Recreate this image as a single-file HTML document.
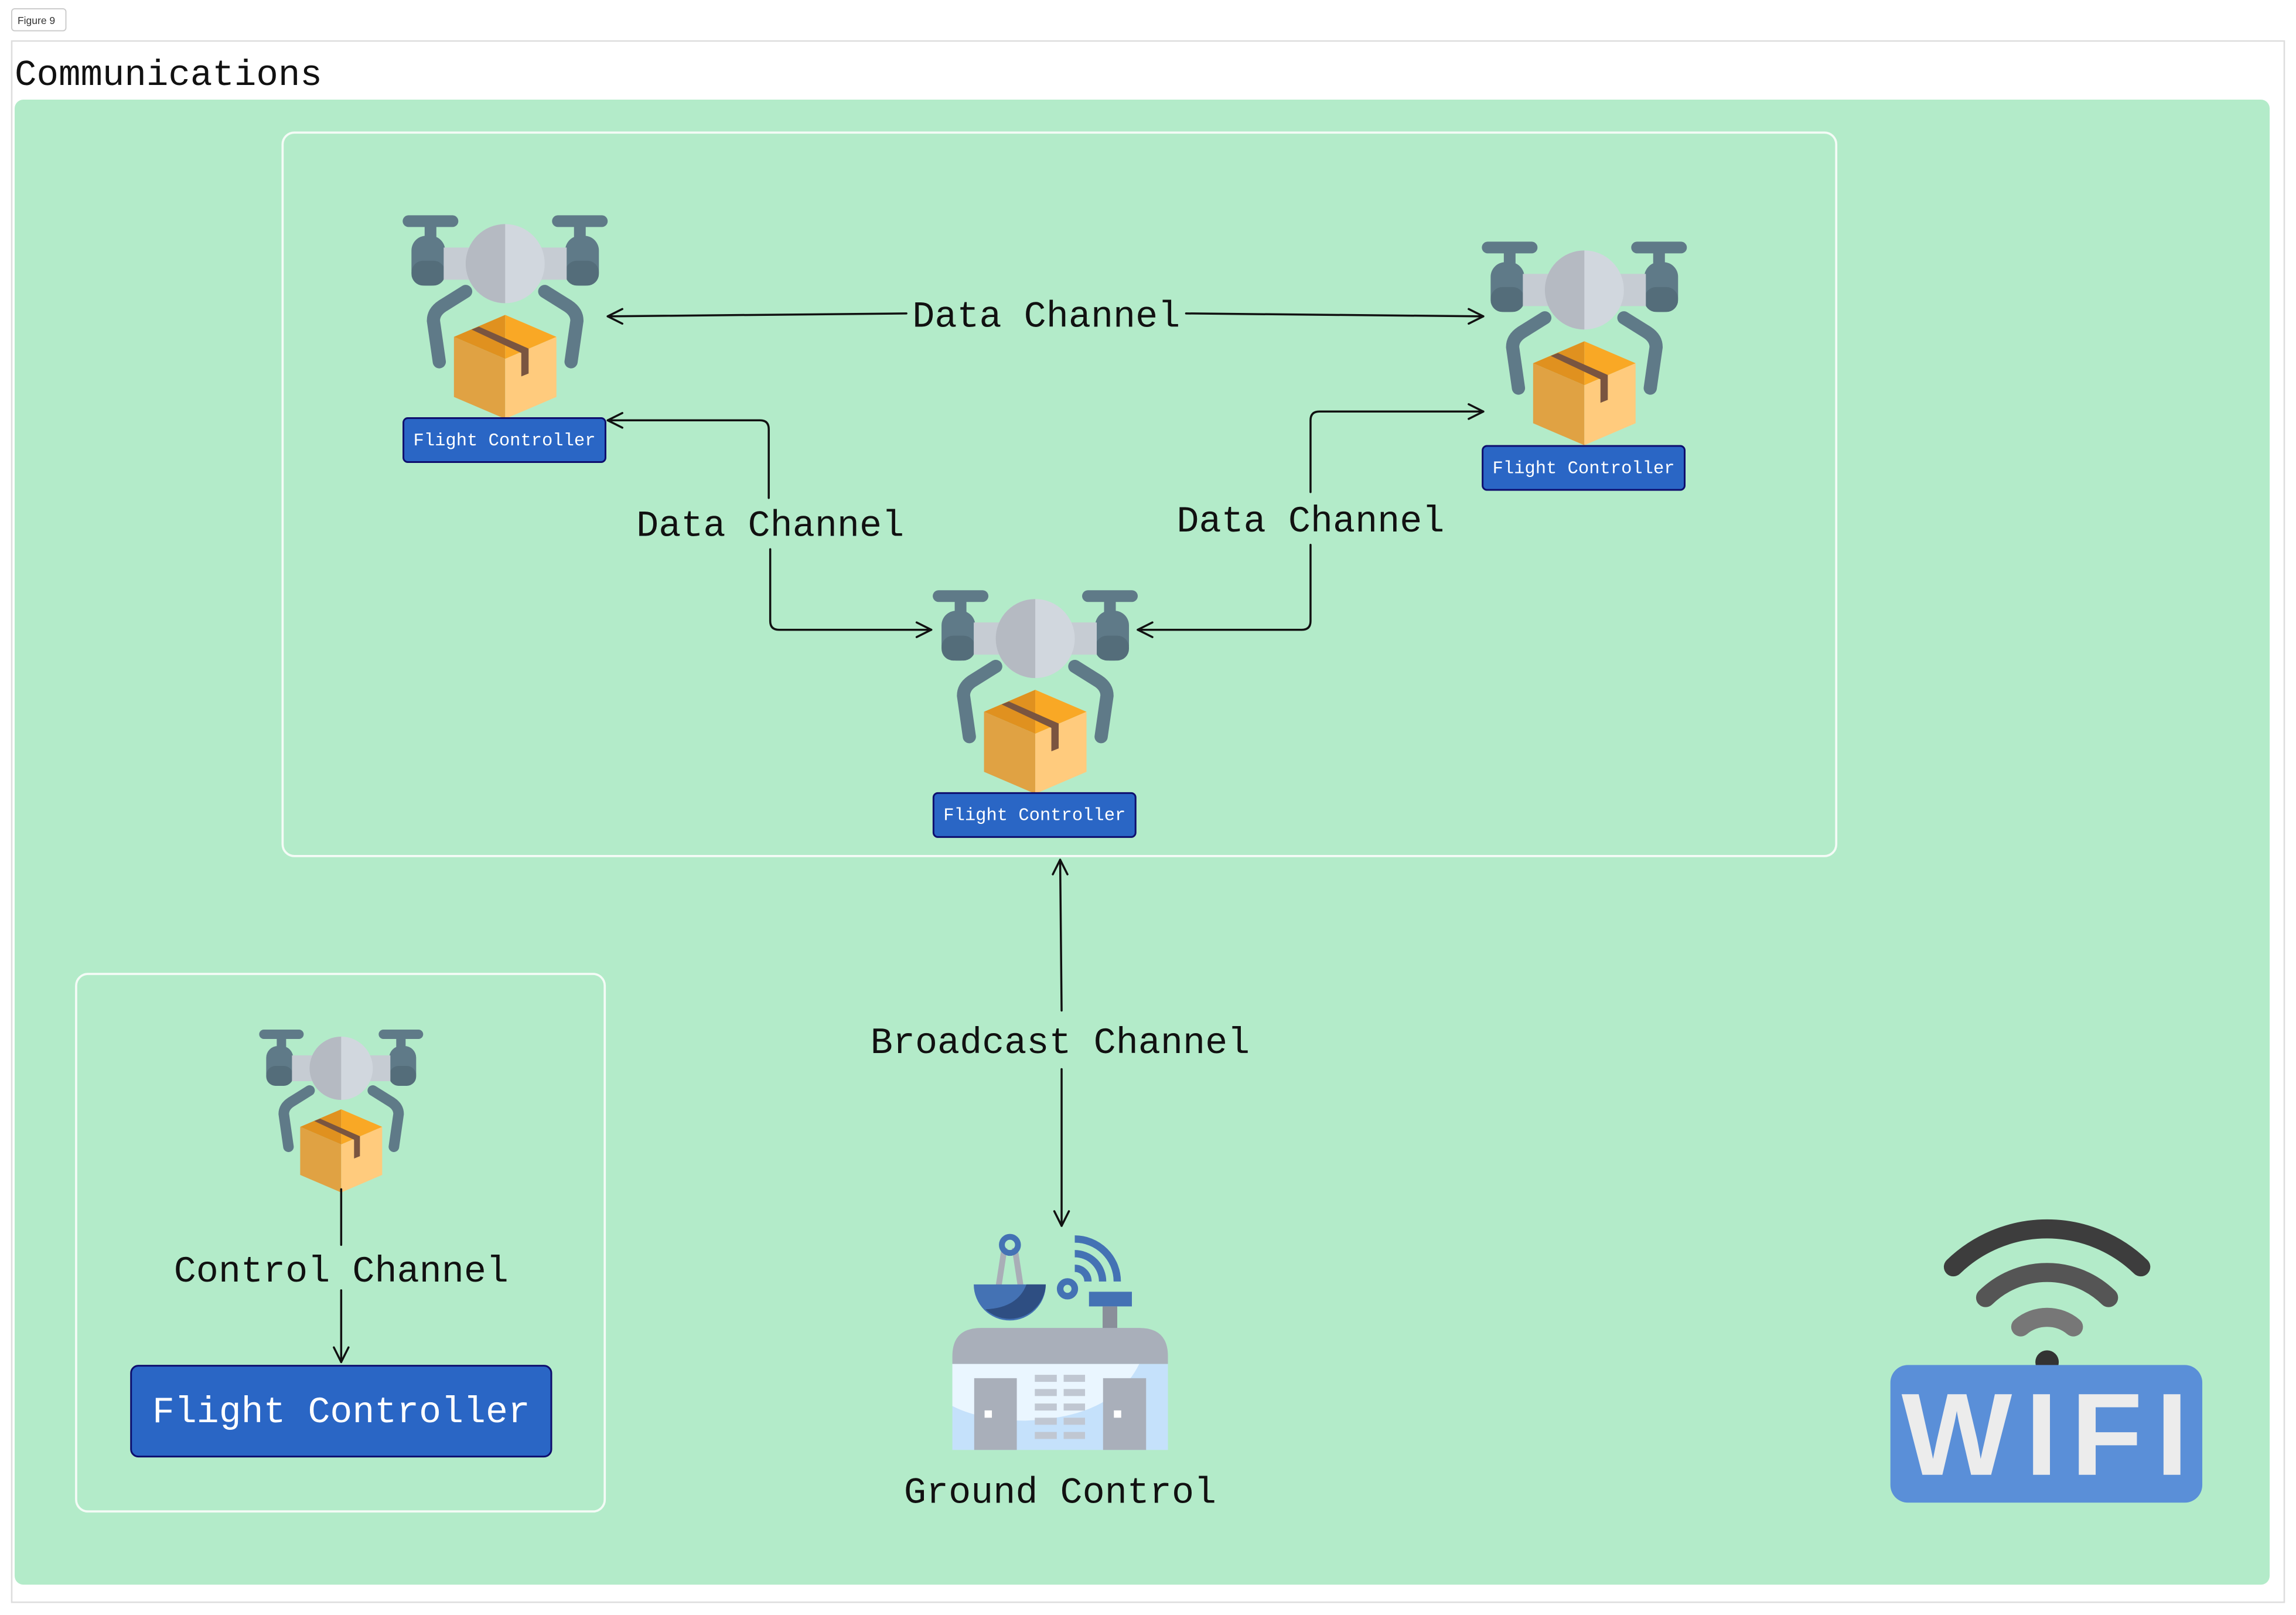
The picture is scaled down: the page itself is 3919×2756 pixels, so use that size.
<!DOCTYPE html>
<html><head><meta charset="utf-8"><style>
html,body{margin:0;padding:0;background:#fff;}
svg{display:block;}
.m{font-family:"Liberation Mono",monospace;}
</style></head><body>
<svg width="3919" height="2756" viewBox="0 0 1568 1102.7" preserveAspectRatio="none" xmlns="http://www.w3.org/2000/svg">
<defs>
<g id="drone">
  <rect x="0" y="0" width="38" height="8" rx="4" fill="#5f7a88"/>
  <rect x="15" y="6" width="8" height="12" fill="#5f7a88"/>
  <rect x="6" y="14" width="23" height="34" rx="10" fill="#5f7a88"/>
  <rect x="6" y="31" width="23" height="17" rx="8" fill="#546d7a"/>
  <rect x="102" y="0" width="38" height="8" rx="4" fill="#5f7a88"/>
  <rect x="117" y="6" width="8" height="12" fill="#5f7a88"/>
  <rect x="111" y="14" width="23" height="34" rx="10" fill="#5f7a88"/>
  <rect x="111" y="31" width="23" height="17" rx="8" fill="#546d7a"/>
  <path d="M43 52 L27 62 Q21 66 21 72 L25 100" stroke="#5f7a88" stroke-width="9" fill="none" stroke-linecap="round"/>
  <path d="M97 52 L113 62 Q119 66 119 72 L115 100" stroke="#5f7a88" stroke-width="9" fill="none" stroke-linecap="round"/>
  <rect x="28" y="22" width="84" height="22" fill="#c6ccd3"/>
  <circle cx="70" cy="33" r="27" fill="#d1d7de"/>
  <path d="M70 6 A27 27 0 0 0 70 60 Z" fill="#b5bac2"/>
  <polygon points="70,68 35,83 70,98" fill="#e0911f"/>
  <polygon points="70,68 105,83 70,98" fill="#f9a825"/>
  <polygon points="35,83 70,98 70,139 35,124" fill="#e0a243"/>
  <polygon points="70,98 105,83 105,124 70,139" fill="#ffcb7d"/>
  <polygon points="47,78 52,76 86,91 86,108 81,110 81,94" fill="#7a5540"/>
</g>
</defs>
<rect x="0" y="0" width="1568" height="1102.7" fill="#fff"/>
<rect x="8" y="6" width="37" height="15" rx="2" fill="#fff" stroke="#ccc" stroke-width="0.8"/>
<text x="12" y="16.5" font-size="7" style="font-family:'Liberation Sans',sans-serif" fill="#333">Figure 9</text>
<rect x="8" y="28" width="1552" height="1066" fill="#fff" stroke="#ddd" stroke-width="1"/>
<text class="m" x="10" y="58" font-size="25" fill="#111">Communications</text>
<rect x="10" y="68" width="1540" height="1014" rx="6" fill="#b3ebc9"/>
<rect x="193" y="90.5" width="1061" height="494" rx="8" fill="none" stroke="#f4fbf6" stroke-width="1.5"/>
<rect x="52" y="665" width="361" height="367" rx="8" fill="none" stroke="#f4fbf6" stroke-width="1.5"/>

<use href="#drone" x="275" y="147"/>
<use href="#drone" x="1012" y="165"/>
<use href="#drone" x="637" y="403"/>
<use href="#drone" transform="translate(177,703) scale(0.8)"/>

<g stroke="#0e0e6e" stroke-width="1.2" fill="#2a66c5">
<rect x="275.5" y="285.5" width="138" height="30" rx="3"/>
<rect x="1012.5" y="304.5" width="138" height="30" rx="3"/>
<rect x="637.5" y="541.5" width="138" height="30" rx="3"/>
<rect x="89.5" y="932.5" width="287" height="62" rx="5"/>
</g>
<g class="m" fill="#fff" text-anchor="middle">
<text x="344.5" y="304" font-size="12.2">Flight Controller</text>
<text x="1081.5" y="323" font-size="12.2">Flight Controller</text>
<text x="706.5" y="560" font-size="12.2">Flight Controller</text>
<text x="233" y="971" font-size="25.3">Flight Controller</text>
</g>

<g stroke="#111" stroke-width="1.4" fill="none" stroke-linecap="round" stroke-linejoin="round">
<path d="M415 216 L619 214"/><path d="M425 211 L415 216 L425 221"/>
<path d="M810 214 L1013 216"/><path d="M1003 211 L1013 216 L1003 221"/>
<path d="M415 287 L519 287 Q525 287 525 293 L525 340"/><path d="M425 282 L415 287 L425 292"/>
<path d="M526 375 L526 424 Q526 430 532 430 L636 430"/><path d="M626 425 L636 430 L626 435"/>
<path d="M1013 281 L901 281 Q895 281 895 287 L895 336"/><path d="M1003 276 L1013 281 L1003 286"/>
<path d="M895 372 L895 424 Q895 430 889 430 L777 430"/><path d="M787 425 L777 430 L787 435"/>
<path d="M724 587 L725 690"/><path d="M719 597 L724 587 L729 597"/>
<path d="M725 730 L725 837"/><path d="M720 827 L725 837 L730 827"/>
<path d="M233 812 L233 850"/>
<path d="M233 881 L233 930"/><path d="M228 920 L233 930 L238 920"/>
</g>
<g class="m" fill="#111" text-anchor="middle" font-size="25.4">
<text x="714.5" y="223">Data Channel</text>
<text x="526" y="366">Data Channel</text>
<text x="895" y="363">Data Channel</text>
<text x="724" y="719">Broadcast Channel</text>
<text x="233" y="875">Control Channel</text>
<text x="724" y="1026">Ground Control</text>
</g>

<!-- ground control -->
<g>
<path d="M686 852 L682 878 M693 852 L697 878" stroke="#a9aeb7" stroke-width="4"/>
<circle cx="689.7" cy="850" r="5.5" fill="none" stroke="#4472b4" stroke-width="4"/>
<path d="M665 877 L714.2 877 A24.6 24.6 0 0 1 665 877 Z" fill="#4472b4"/>
<path d="M701 877 L714.2 877 A24.6 24.6 0 0 1 673 894 Q695 893 701 877 Z" fill="#2e4e82"/>
<circle cx="729" cy="880" r="5" fill="none" stroke="#4472b4" stroke-width="4.5"/>
<g fill="none" stroke="#4472b4" stroke-width="5">
<path d="M734 846 A29 29 0 0 1 763 875"/>
<path d="M734 856 A19 19 0 0 1 753 875"/>
<path d="M734 866 A9 9 0 0 1 743 875"/>
</g>
<rect x="743.7" y="882" width="29.3" height="10" fill="#4472b4"/>
<rect x="753" y="892" width="10" height="15" fill="#8a8f9a"/>
<path d="M650.4 931.3 L650.4 926 Q650.4 906.7 670 906.7 L778 906.7 Q797.6 906.7 797.6 926 L797.6 931.3 Z" fill="#a9afba"/>
<rect x="650.4" y="931.3" width="147.2" height="58.7" fill="#c5e1fb"/>
<path d="M650.4 931.3 L778 931.3 Q760 968 700 970 Q670 970 650.4 960 Z" fill="#eaf6ff"/>
<rect x="665.3" y="941" width="29.1" height="49" fill="#a9afba"/>
<rect x="753.3" y="941" width="29.4" height="49" fill="#a9afba"/>
<rect x="672.4" y="963" width="5" height="5" fill="#fff"/>
<rect x="760.7" y="963" width="5" height="5" fill="#fff"/>
<g fill="#c0c7d2">
<rect x="706.7" y="938.7" width="15" height="4.8"/><rect x="726.4" y="938.7" width="14.6" height="4.8"/>
<rect x="706.7" y="948.4" width="15" height="4.8"/><rect x="726.4" y="948.4" width="14.6" height="4.8"/>
<rect x="706.7" y="958.3" width="15" height="4.8"/><rect x="726.4" y="958.3" width="14.6" height="4.8"/>
<rect x="706.7" y="968" width="15" height="4.8"/><rect x="726.4" y="968" width="14.6" height="4.8"/>
<rect x="706.7" y="977.7" width="15" height="4.8"/><rect x="726.4" y="977.7" width="14.6" height="4.8"/>
</g>
</g>

<!-- wifi -->
<g fill="none" stroke-linecap="round">
<path d="M1334 865 A92 92 0 0 1 1462 865" stroke="#3d3d3d" stroke-width="13"/>
<path d="M1356 886 A60 60 0 0 1 1440 886" stroke="#555" stroke-width="13"/>
<path d="M1380 906 A28 28 0 0 1 1416 906" stroke="#777" stroke-width="13"/>
</g>
<circle cx="1398" cy="930" r="8" fill="#333"/>
<rect x="1291" y="932" width="213" height="94" rx="12" fill="#5a8fd8"/>
<text x="1401" y="1007" style="font-family:'Liberation Sans',sans-serif;font-weight:bold" font-size="80" fill="#ececec" text-anchor="middle" letter-spacing="9">WIFI</text>
</svg>
</body></html>
